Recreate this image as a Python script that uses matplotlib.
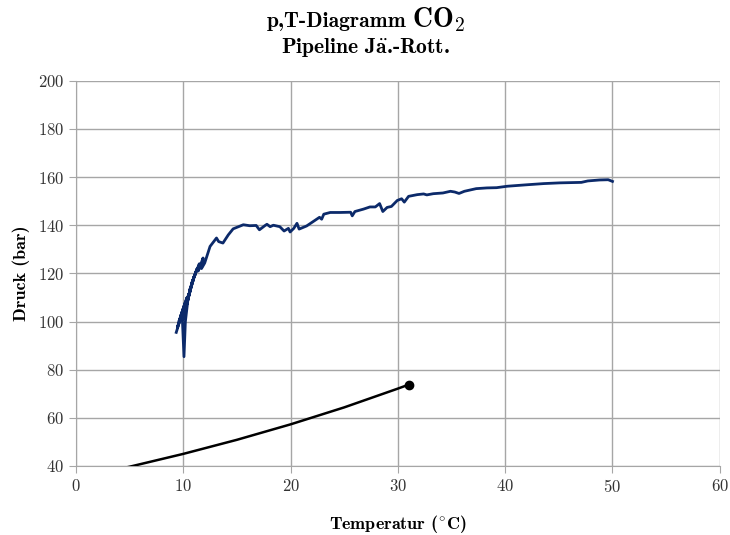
import matplotlib
matplotlib.use("Agg")
import matplotlib.pyplot as plt

plt.rcParams['mathtext.fontset'] = 'cm'
plt.rcParams['axes.formatter.use_mathtext'] = True

# Messreihe Pipeline (Temperatur in °C, Druck in bar)
temp_pipe = [9.35, 9.9, 9.45, 10.05, 9.6, 10.2, 9.75, 10.35, 9.9, 10.07, 10.2,
             10.5, 10.0, 10.65, 10.2, 10.8, 10.4, 10.95, 10.6, 11.1, 10.8,
             11.3, 11.0, 11.5, 11.4, 11.85, 11.7, 12.0, 12.5, 13.1, 13.3, 13.7,
             14.2, 14.65, 15.6, 16.2, 16.8, 17.1, 17.6, 17.8, 18.1, 18.4, 19.0,
             19.4, 19.8, 19.96, 20.3, 20.6, 20.8, 21.5, 22.1, 22.7, 22.9, 23.1,
             23.7, 24.6, 25.6, 25.75, 26.0, 26.8, 27.4, 27.9, 28.3, 28.6, 29.0,
             29.4, 29.95, 30.35, 30.6, 31.0, 31.8, 32.4, 32.7, 33.3, 34.2, 34.9,
             35.3, 35.7, 36.2, 37.3, 38.3, 39.2, 40.2, 42.0, 43.6, 45.1, 47.1,
             47.7, 48.8, 49.6, 50.0]
druck_pipe = [95.5, 103.5, 97.5, 105.5, 100.0, 108.0, 102.0, 110.0, 103.0,
              85.4, 100.0, 111.5, 101.0, 113.0, 105.0, 115.5, 109.0, 117.5,
              113.0, 119.5, 116.0, 122.0, 118.5, 124.0, 121.0, 126.4, 122.0,
              124.3, 131.2, 134.7, 133.2, 132.6, 136.0, 138.5, 140.2, 139.8,
              139.9, 138.1, 139.8, 140.4, 139.4, 140.0, 139.4, 137.6, 138.7,
              137.2, 138.7, 140.8, 138.4, 139.7, 141.5, 143.3, 142.5, 144.6,
              145.3, 145.3, 145.4, 143.9, 145.7, 146.7, 147.6, 147.6, 149.0,
              145.7, 147.4, 147.8, 150.3, 151.0, 149.6, 152.0, 152.7, 153.0,
              152.6, 153.1, 153.4, 154.1, 153.8, 153.2, 154.1, 155.2, 155.5,
              155.6, 156.2, 156.8, 157.3, 157.6, 157.8, 158.4, 158.8, 158.9,
              158.2]

# Dampfdruckkurve CO2 bis zum kritischen Punkt
temp_sat = [0.0, 5.0, 10.0, 15.0, 20.0, 25.0, 30.0, 31.0]
druck_sat = [34.85, 39.69, 45.02, 50.87, 57.29, 64.34, 72.14, 73.77]

fig = plt.figure(figsize=(7.3, 5.35), dpi=100)
ax = fig.add_axes([0.104, 0.129, 0.882, 0.720])

ax.plot(temp_pipe, druck_pipe, color='#0c2a6a', lw=2.0, zorder=3)
ax.plot(temp_sat, druck_sat, color='black', lw=1.8, zorder=3)
ax.plot(temp_sat[-1], druck_sat[-1], 'o', color='black', ms=6, zorder=4)

ax.set_xlim(0, 60)
ax.set_ylim(40, 200)
ax.set_xticks(range(0, 61, 10))
ax.set_yticks(range(40, 201, 20))
ax.grid(True, color='#a6a6a6', lw=1.0)
ax.set_axisbelow(True)
for s in ['top', 'right']:
    ax.spines[s].set_visible(False)
for s in ['left', 'bottom']:
    ax.spines[s].set_color('#a6a6a6')
ax.tick_params(length=5, color='#a6a6a6', labelsize=12, labelcolor='#333333')
for lab in ax.get_xticklabels() + ax.get_yticklabels():
    lab.set_family('cmr10')

lbl = dict(family=['cmb10', 'DejaVu Serif'], fontsize=13)
ax.set_xlabel('Temperatur ($\\mathbf{^{\\circ}}$C)', **lbl)
ax.set_ylabel('Druck (bar)', **lbl)
ax.xaxis.set_label_coords(0.5, -0.122)
ax.yaxis.set_label_coords(-0.072, 0.5)

# Titel: "p,T-Diagramm" + groesseres CO2, gemeinsam zentriert
fam = ['cmb10', 'DejaVu Serif']
t1 = fig.text(0, 0, 'p,T-Diagramm', ha='left', va='baseline', family=fam, fontsize=15.5)
t2 = fig.text(0, 0, '$\\mathbf{CO_2}$', ha='left', va='baseline', fontsize=20)
fig.canvas.draw()
r = fig.canvas.get_renderer()
w1 = t1.get_window_extent(r).width
w2 = t2.get_window_extent(r).width
gap = 6
xc = 366
x0 = xc - (w1 + gap + w2) / 2
ybase = 535 - 27
t1.set_position((x0 / 730, ybase / 535))
t2.set_position(((x0 + w1 + gap) / 730, ybase / 535))

fig.text(366 / 730, 0.912, 'Pipeline J$\\mathbf{\\ddot{a}}$.-Rott.', ha='center', va='center',
         family=fam, fontsize=15.5)

fig.savefig('out.png', dpi=100)
